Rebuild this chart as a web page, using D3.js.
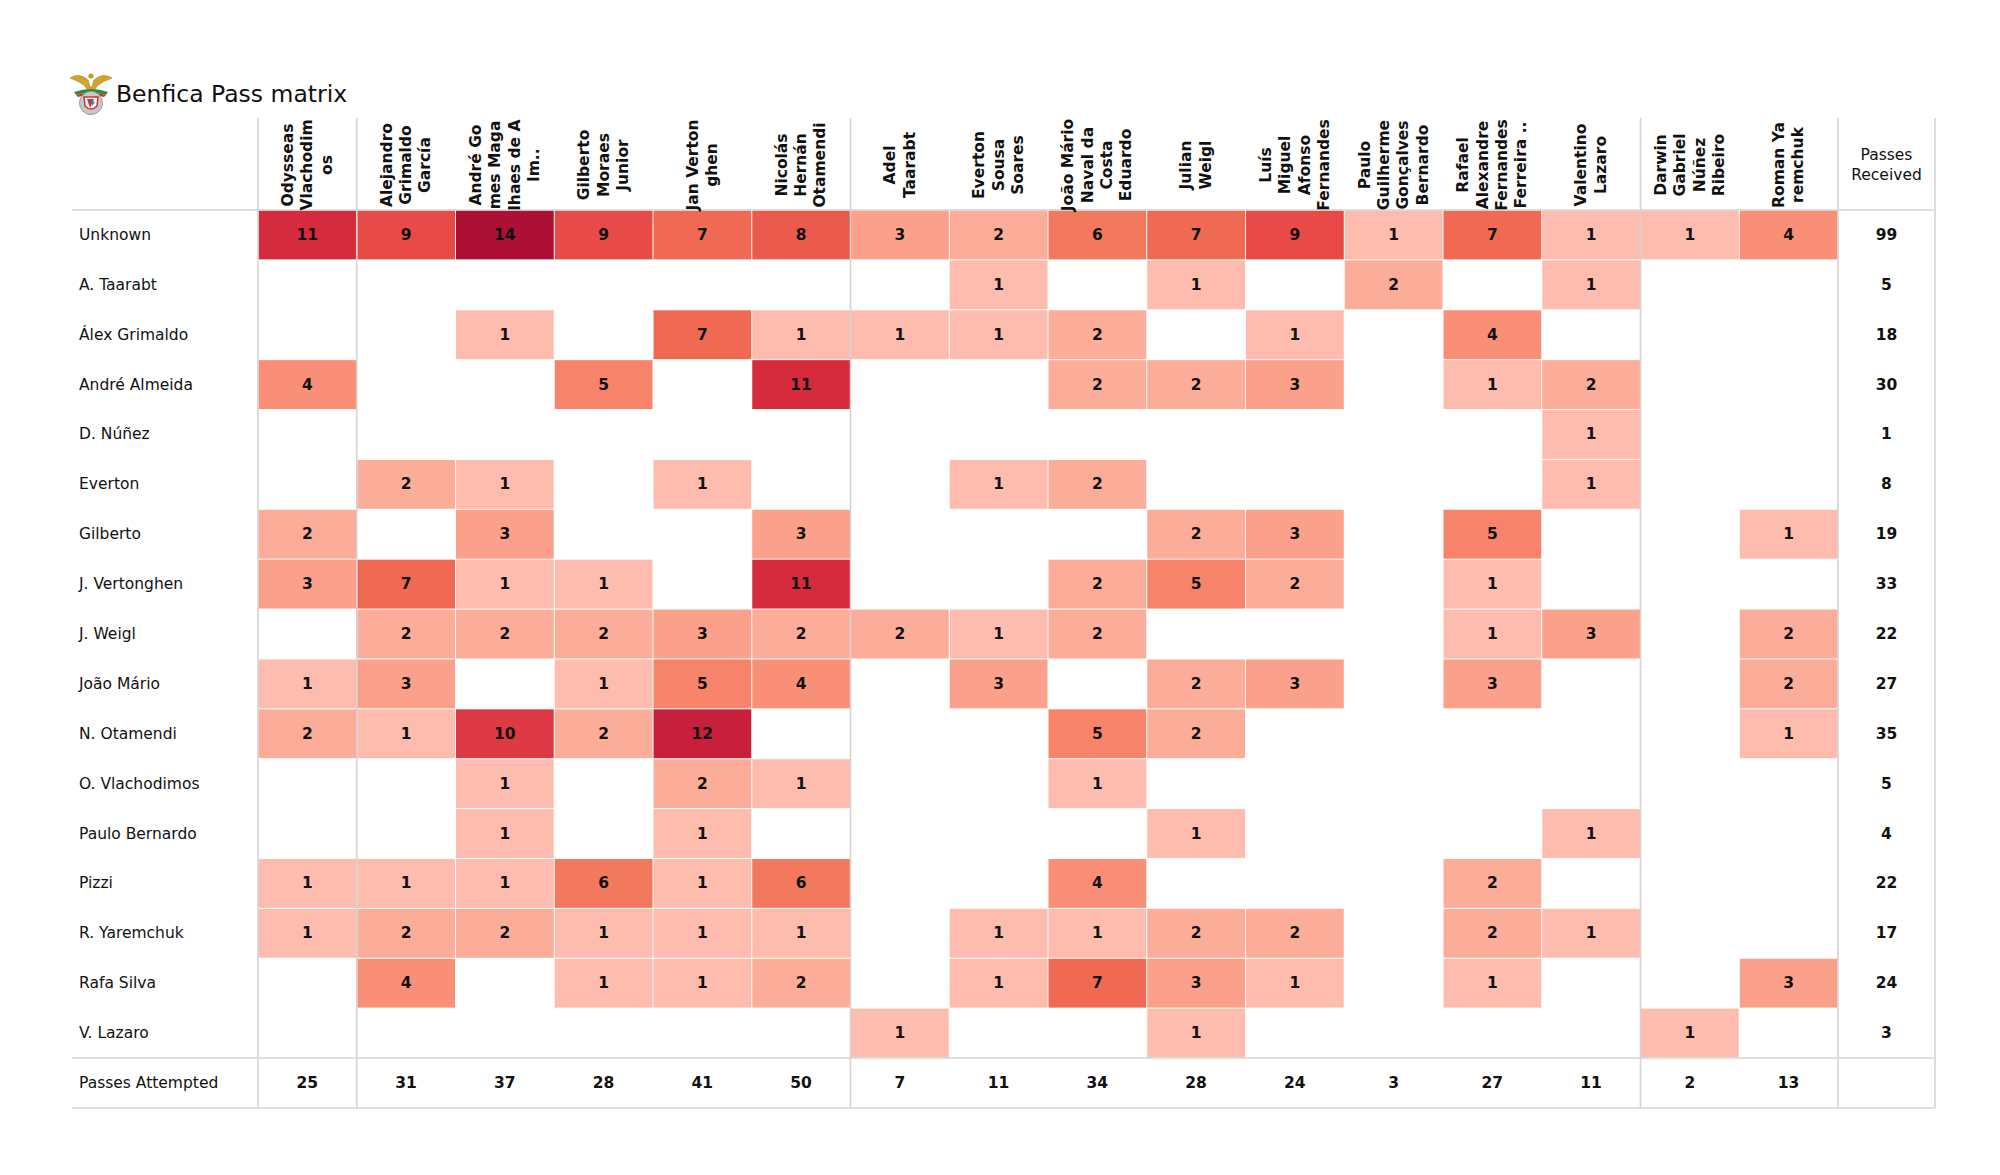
<!DOCTYPE html>
<html>
<head>
<meta charset="utf-8">
<script src="https://cdn.jsdelivr.net/npm/d3@7/dist/d3.min.js"></script>
<style>
  html, body { margin: 0; padding: 0; background: #fff; }
  svg { display: block; font-family: "DejaVu Sans", sans-serif; }
</style>
</head>
<body>
<svg id="chart" width="2000" height="1175"></svg>
<script>
// ---- data ----
const title = "Benfica Pass matrix";
const receivers = [
  "Odysseas|Vlachodim|os",
  "Alejandro|Grimaldo|García",
  "André Go|mes Maga|lhaes de A|lm..",
  "Gilberto|Moraes|Junior",
  "Jan Verton|ghen",
  "Nicolás|Hernán|Otamendi",
  "Adel|Taarabt",
  "Everton|Sousa|Soares",
  "João Mário|Naval da|Costa|Eduardo",
  "Julian|Weigl",
  "Luís|Miguel|Afonso|Fernandes",
  "Paulo|Guilherme|Gonçalves|Bernardo",
  "Rafael|Alexandre|Fernandes|Ferreira ..",
  "Valentino|Lazaro",
  "Darwin|Gabriel|Núñez|Ribeiro",
  "Roman Ya|remchuk"
];
const receiverGroups = ["GK","DEF","DEF","DEF","DEF","DEF","MID","MID","MID","MID","MID","MID","MID","MID","FWD","FWD"];
const passers = [
  "Unknown", "A. Taarabt", "Álex Grimaldo", "André Almeida", "D. Núñez", "Everton",
  "Gilberto", "J. Vertonghen", "J. Weigl", "João Mário", "N. Otamendi", "O. Vlachodimos",
  "Paulo Bernardo", "Pizzi", "R. Yaremchuk", "Rafa Silva", "V. Lazaro"
];
const rowUnknown       = [11, 9,14, 9, 7, 8, 3, 2, 6, 7, 9, 1, 7, 1, 1, 4];
const rowTaarabt       = [ 0, 0, 0, 0, 0, 0, 0, 1, 0, 1, 0, 2, 0, 1, 0, 0];
const rowGrimaldo      = [ 0, 0, 1, 0, 7, 1, 1, 1, 2, 0, 1, 0, 4, 0, 0, 0];
const rowAlmeida       = [ 4, 0, 0, 5, 0,11, 0, 0, 2, 2, 3, 0, 1, 2, 0, 0];
const rowNunez         = [ 0, 0, 0, 0, 0, 0, 0, 0, 0, 0, 0, 0, 0, 1, 0, 0];
const rowEverton       = [ 0, 2, 1, 0, 1, 0, 0, 1, 2, 0, 0, 0, 0, 1, 0, 0];
const rowGilberto      = [ 2, 0, 3, 0, 0, 3, 0, 0, 0, 2, 3, 0, 5, 0, 0, 1];
const rowVertonghen    = [ 3, 7, 1, 1, 0,11, 0, 0, 2, 5, 2, 0, 1, 0, 0, 0];
const rowWeigl         = [ 0, 2, 2, 2, 3, 2, 2, 1, 2, 0, 0, 0, 1, 3, 0, 2];
const rowJoaoMario     = [ 1, 3, 0, 1, 5, 4, 0, 3, 0, 2, 3, 0, 3, 0, 0, 2];
const rowOtamendi      = [ 2, 1,10, 2,12, 0, 0, 0, 5, 2, 0, 0, 0, 0, 0, 1];
const rowVlachodimos   = [ 0, 0, 1, 0, 2, 1, 0, 0, 1, 0, 0, 0, 0, 0, 0, 0];
const rowPauloBernardo = [ 0, 0, 1, 0, 1, 0, 0, 0, 0, 1, 0, 0, 0, 1, 0, 0];
const rowPizzi         = [ 1, 1, 1, 6, 1, 6, 0, 0, 4, 0, 0, 0, 2, 0, 0, 0];
const rowYaremchuk     = [ 1, 2, 2, 1, 1, 1, 0, 1, 1, 2, 2, 0, 2, 1, 0, 0];
const rowRafaSilva     = [ 0, 4, 0, 1, 1, 2, 0, 1, 7, 3, 1, 0, 1, 0, 0, 3];
const rowLazaro        = [ 0, 0, 0, 0, 0, 0, 1, 0, 0, 1, 0, 0, 0, 0, 1, 0];
const matrix = [rowUnknown, rowTaarabt, rowGrimaldo, rowAlmeida, rowNunez, rowEverton,
  rowGilberto, rowVertonghen, rowWeigl, rowJoaoMario, rowOtamendi, rowVlachodimos,
  rowPauloBernardo, rowPizzi, rowYaremchuk, rowRafaSilva, rowLazaro];

// ---- layout ----
const svg = d3.select("#chart");
const tableLeft = 72, gridLeft = 258, gridRight = 1838, tableRight = 1935;
const headerTop = 118, gridTop = 210, gridBottom = 1058, footBottom = 1108;

const x = d3.scaleBand().domain(d3.range(receivers.length)).range([gridLeft, gridRight]);
const y = d3.scaleBand().domain(d3.range(passers.length)).range([gridTop, gridBottom]);

const color = d3.scaleLinear()
  .domain([1, 2, 3, 4, 5, 6, 7, 8, 9, 10, 11, 12, 14])
  .range(["#fdbcae", "#fcad99", "#fba08a", "#f98f77", "#f6836a", "#f2785e",
          "#f06a53", "#ec5a4e", "#e84a48", "#de3a45", "#d62b3c", "#c8203c", "#ac1035"])
  .clamp(true);

// cells
const cells = [];
matrix.forEach((row, i) => row.forEach((v, j) => { if (v > 0) cells.push({i, j, v}); }));

svg.append("g").selectAll("rect").data(cells).join("rect")
  .attr("x", d => x(d.j) + 0.5)
  .attr("y", d => y(d.i) + 0.5)
  .attr("width", x.bandwidth() - 1)
  .attr("height", y.bandwidth() - 1)
  .attr("fill", d => color(d.v));

svg.append("g").selectAll("text").data(cells).join("text")
  .attr("x", d => x(d.j) + x.bandwidth() / 2)
  .attr("y", d => y(d.i) + y.bandwidth() / 2)
  .attr("text-anchor", "middle")
  .attr("dominant-baseline", "central")
  .attr("font-size", 15.5)
  .attr("font-weight", "bold")
  .attr("fill", "#111")
  .text(d => d.v);

// grid lines
const lineColor = "#d4d4d4";
const gl = svg.append("g").attr("stroke", lineColor).attr("stroke-width", 1.6);
[gridTop, gridBottom, footBottom].forEach(yy => {
  gl.append("line").attr("x1", tableLeft).attr("x2", tableRight).attr("y1", yy).attr("y2", yy);
});
const vIdx = [0];
receiverGroups.forEach((g, j) => { if (j > 0 && g !== receiverGroups[j - 1]) vIdx.push(j); });
const vxs = vIdx.map(j => x(j)).concat([gridRight, tableRight]);
vxs.forEach(xx => {
  gl.append("line").attr("x1", xx).attr("x2", xx).attr("y1", headerTop).attr("y2", footBottom);
});

// row labels
svg.append("g").selectAll("text").data(passers).join("text")
  .attr("x", 79)
  .attr("y", (d, i) => y(i) + y.bandwidth() / 2)
  .attr("dominant-baseline", "central")
  .attr("font-size", 15.5)
  .attr("fill", "#111")
  .text(d => d);

// header labels (rotated)
const lineGap = 19.3;
const hdr = svg.append("g");
receivers.forEach((name, j) => {
  const lines = name.split("|");
  const cx = x(j) + x.bandwidth() / 2, cy = 165;
  const t = hdr.append("text")
    .attr("transform", `translate(${cx},${cy}) rotate(-90)`)
    .attr("text-anchor", "middle")
    .attr("font-size", 15.5)
    .attr("font-weight", "bold")
    .attr("fill", "#111");
  lines.forEach((ln, k) => {
    t.append("tspan").attr("x", 0)
      .attr("y", (k - (lines.length - 1) / 2) * lineGap)
      .attr("dominant-baseline", "central")
      .text(ln);
  });
});

// Passes Received header + values
const prx = (gridRight + tableRight) / 2;
const prh = svg.append("text").attr("text-anchor", "middle").attr("font-size", 15.5).attr("fill", "#111");
prh.append("tspan").attr("x", prx).attr("y", 160).text("Passes");
prh.append("tspan").attr("x", prx).attr("y", 180).text("Received");

svg.append("g").selectAll("text").data(matrix).join("text")
  .attr("x", prx)
  .attr("y", (d, i) => y(i) + y.bandwidth() / 2)
  .attr("text-anchor", "middle")
  .attr("dominant-baseline", "central")
  .attr("font-size", 15.5)
  .attr("font-weight", "bold")
  .attr("fill", "#111")
  .text(d => d3.sum(d));

// Passes Attempted row
const footY = (gridBottom + footBottom) / 2;
svg.append("text").attr("x", 79).attr("y", footY).attr("dominant-baseline", "central")
  .attr("font-size", 15.5).attr("fill", "#111").text("Passes Attempted");
svg.append("g").selectAll("text").data(receivers).join("text")
  .attr("x", (d, j) => x(j) + x.bandwidth() / 2)
  .attr("y", footY)
  .attr("text-anchor", "middle")
  .attr("dominant-baseline", "central")
  .attr("font-size", 15.5)
  .attr("font-weight", "bold")
  .attr("fill", "#111")
  .text((d, j) => d3.sum(matrix, r => r[j]));

// title
svg.append("text").attr("x", 116).attr("y", 102).attr("font-size", 23.5).attr("fill", "#111").text(title);

// logo (simplified emblem)
const logo = svg.append("g").attr("transform", "translate(91,93)");
// eagle wings
logo.append("path").attr("d", "M-21,-15 Q-12,-21 -3,-13 L-1,-6 L1,-6 L3,-13 Q12,-21 21,-15 Q12,-12 6,-7 L3,-2 L-3,-2 L-6,-7 Q-12,-12 -21,-15 Z")
  .attr("fill", "#d4a52a").attr("stroke", "#a57d17").attr("stroke-width", 0.6);
logo.append("circle").attr("cx", 0).attr("cy", -17).attr("r", 2.6).attr("fill", "#c99a22");
// ribbon
logo.append("path").attr("d", "M-17,-1 Q0,-7 17,-1 L15,2 Q0,-3 -15,2 Z").attr("fill", "#2e8b3e");
logo.append("path").attr("d", "M-15,2 Q0,-3 15,2 L13,4 Q0,0 -13,4 Z").attr("fill", "#d32f2f");
// shield
logo.append("circle").attr("cx", 0).attr("cy", 10).attr("r", 11.5).attr("fill", "#c8c8c8").attr("stroke", "#9a9a9a").attr("stroke-width", 1);
logo.append("path").attr("d", "M-7,4 L7,4 L6,13 Q0,19 -6,13 Z").attr("fill", "#ffffff").attr("stroke", "#d32f2f").attr("stroke-width", 1.5);
logo.append("path").attr("d", "M-4,6 L3,6 L-1,15 Z").attr("fill", "#d32f2f");
logo.append("path").attr("d", "M0,7 L4,9 L1,13 Z").attr("fill", "#3a7bd5");
</script>
</body>
</html>
